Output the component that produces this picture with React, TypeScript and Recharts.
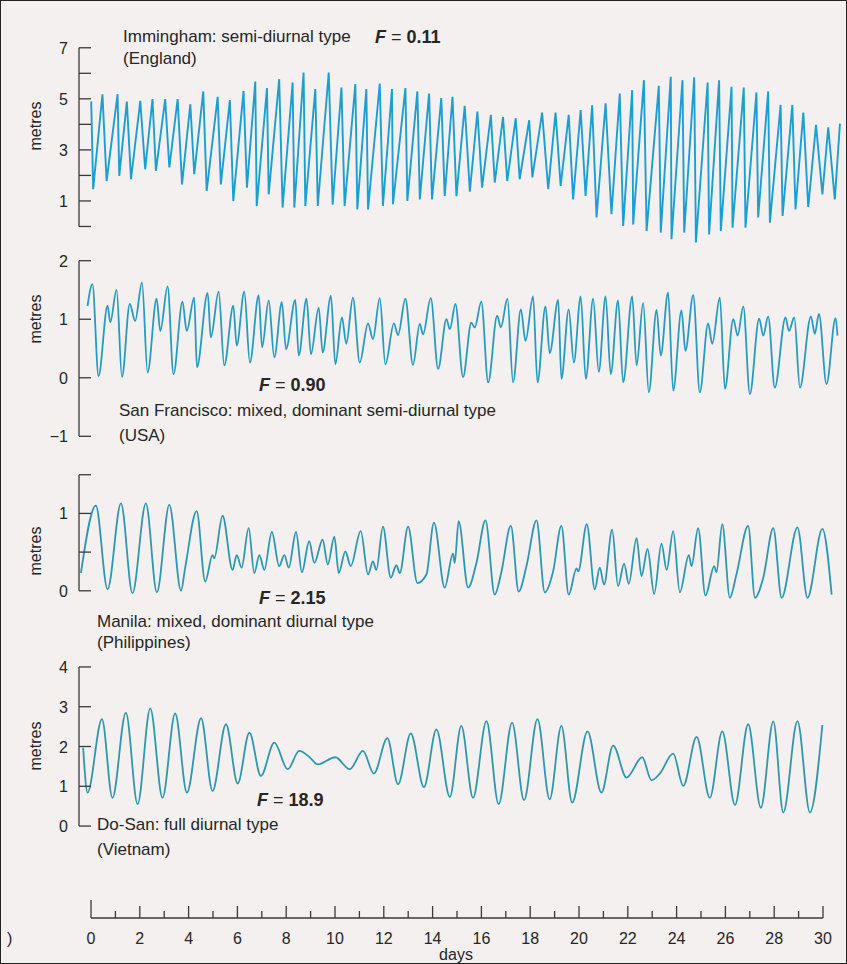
import React from 'react';
import { LineChart, Line, XAxis, YAxis, ReferenceLine } from 'recharts';

// highs and lows (day, metres)
const imminghamDays = [0, 0.08, 0.46, 0.63, 1.08, 1.15, 1.46, 1.63, 2.01, 2.21, 2.51, 2.65, 3.03, 3.2, 3.54, 3.72, 4.06, 4.22, 4.59, 4.73, 5.18, 5.31, 5.68, 5.82, 6.24, 6.38, 6.72, 6.78, 7.2, 7.27, 7.7, 7.84, 8.25, 8.32, 8.7, 8.77, 9.18, 9.28, 9.73, 9.89, 10.25, 10.38, 10.82, 10.9, 11.27, 11.34, 11.82, 11.95, 12.32, 12.36, 12.87, 12.95, 13.36, 13.46, 13.84, 13.96, 14.34, 14.48, 14.8, 14.96, 15.3, 15.51, 15.82, 16.01, 16.37, 16.53, 16.87, 17.04, 17.39, 17.55, 17.94, 18.07, 18.47, 18.72, 19.02, 19.23, 19.56, 19.74, 20.05, 20.25, 20.52, 20.7, 21.07, 21.31, 21.65, 21.79, 22.16, 22.2, 22.64, 22.75, 23.25, 23.33, 23.74, 23.77, 24.22, 24.29, 24.7, 24.77, 25.25, 25.31, 25.72, 25.79, 26.23, 26.27, 26.73, 26.8, 27.25, 27.32, 27.73, 27.8, 28.24, 28.32, 28.72, 28.85, 29.17, 29.37, 29.69, 29.95, 30.19, 30.46, 30.67];
const imminghamMetres = [4.9, 1.46, 5.18, 1.78, 5.18, 1.98, 4.89, 1.85, 4.92, 2.24, 4.99, 2.18, 4.99, 2.31, 4.99, 1.65, 4.79, 2.05, 5.29, 1.39, 5.08, 1.65, 4.95, 1.0, 5.31, 1.52, 5.68, 0.8, 5.42, 1.26, 5.77, 0.74, 5.64, 0.74, 6.03, 0.8, 5.38, 0.8, 6.03, 0.85, 5.44, 0.8, 5.58, 0.67, 5.38, 0.67, 5.6, 0.8, 5.38, 0.87, 5.42, 1.0, 5.29, 1.06, 5.21, 1.06, 5.03, 1.19, 5.08, 1.19, 4.73, 1.36, 4.5, 1.52, 4.37, 1.72, 4.29, 1.78, 4.24, 1.85, 4.16, 1.92, 4.46, 1.46, 4.46, 1.59, 4.37, 1.06, 4.56, 1.2, 4.75, 0.35, 4.82, 0.48, 5.21, 0.02, 5.34, 0.08, 5.73, -0.18, 5.51, -0.24, 5.86, -0.5, 5.73, -0.24, 5.84, -0.63, 5.64, -0.31, 5.73, -0.18, 5.47, -0.05, 5.44, -0.05, 5.25, 0.35, 5.29, 0.15, 4.76, 0.41, 4.76, 0.67, 4.46, 0.76, 3.98, 1.26, 3.88, 1.06, 4.03];

const sanFranciscoDays = [-0.15, 0.05, 0.3, 0.67, 0.78, 1.04, 1.26, 1.58, 1.8, 2.08, 2.31, 2.68, 2.83, 3.13, 3.37, 3.74, 3.91, 4.22, 4.33, 4.77, 4.9, 5.22, 5.45, 5.82, 5.96, 6.27, 6.5, 6.86, 7.0, 7.27, 7.5, 7.81, 7.98, 8.36, 8.5, 8.82, 9.0, 9.32, 9.48, 9.82, 10.0, 10.27, 10.45, 10.72, 11.0, 11.34, 11.54, 11.82, 12.05, 12.4, 12.57, 12.87, 13.18, 13.46, 13.59, 13.91, 14.21, 14.55, 14.69, 14.92, 15.23, 15.57, 15.71, 15.98, 16.26, 16.63, 16.78, 17.05, 17.28, 17.6, 17.79, 18.1, 18.28, 18.61, 18.78, 19.13, 19.26, 19.56, 19.77, 20.05, 20.26, 20.56, 20.79, 21.07, 21.28, 21.58, 21.79, 22.16, 22.34, 22.61, 22.84, 23.16, 23.33, 23.63, 23.84, 24.18, 24.34, 24.66, 24.93, 25.27, 25.44, 25.75, 25.96, 26.3, 26.48, 26.71, 26.98, 27.36, 27.53, 27.73, 28.0, 28.44, 28.58, 28.8, 29.03, 29.48, 29.64, 29.81, 30.12, 30.49, 30.57];
const sanFranciscoMetres = [1.23, 1.6, 0.03, 1.23, 0.95, 1.5, 0.01, 1.26, 0.97, 1.63, 0.09, 1.35, 0.8, 1.56, 0.06, 1.3, 0.8, 1.37, 0.18, 1.45, 0.69, 1.47, 0.21, 1.23, 0.55, 1.47, 0.26, 1.41, 0.52, 1.32, 0.35, 1.29, 0.49, 1.33, 0.38, 1.35, 0.4, 1.2, 0.43, 1.4, 0.23, 1.03, 0.58, 1.37, 0.26, 0.93, 0.66, 1.36, 0.23, 0.93, 0.73, 1.35, 0.22, 0.92, 0.74, 1.36, 0.15, 1.0, 0.83, 1.26, 0.01, 0.94, 0.86, 1.3, -0.08, 1.06, 0.86, 1.35, -0.08, 1.17, 0.63, 1.39, -0.08, 1.22, 0.42, 1.33, -0.02, 1.17, 0.26, 1.39, -0.02, 1.35, 0.1, 1.39, 0.06, 1.32, -0.08, 1.39, 0.21, 1.28, -0.25, 1.16, 0.38, 1.46, -0.22, 1.15, 0.46, 1.41, -0.25, 0.93, 0.58, 1.37, -0.19, 1.0, 0.72, 1.22, -0.28, 1.01, 0.72, 1.05, -0.17, 1.03, 0.8, 1.03, -0.17, 1.05, 0.75, 1.09, -0.11, 1.02, 0.72];

const manilaDays = [-0.42, 0.19, 0.67, 1.22, 1.69, 2.24, 2.69, 3.2, 3.68, 3.85, 4.32, 4.67, 4.97, 5.04, 5.38, 5.79, 5.96, 6.16, 6.45, 6.68, 6.89, 7.09, 7.4, 7.7, 7.91, 8.09, 8.39, 8.63, 8.93, 9.14, 9.48, 9.69, 9.96, 10.14, 10.41, 10.63, 11.04, 11.34, 11.54, 11.68, 11.95, 12.27, 12.5, 12.64, 12.98, 13.36, 13.73, 14.04, 14.48, 14.82, 14.89, 15.05, 15.44, 15.78, 16.15, 16.53, 16.8, 17.19, 17.51, 17.83, 18.24, 18.58, 18.92, 19.26, 19.56, 19.88, 19.95, 20.3, 20.63, 20.83, 21.01, 21.34, 21.58, 21.83, 22.02, 22.34, 22.54, 22.79, 23.06, 23.36, 23.57, 23.84, 24.11, 24.48, 24.59, 24.86, 25.16, 25.52, 25.61, 25.85, 26.16, 26.43, 26.91, 27.19, 27.53, 27.94, 28.28, 28.93, 29.34, 29.95, 30.33];
const manilaMetres = [0.23, 1.1, 0.02, 1.13, -0.03, 1.13, -0.02, 1.11, 0.0, 0.3, 1.03, 0.12, 0.46, 0.42, 0.97, 0.27, 0.46, 0.3, 0.81, 0.23, 0.46, 0.27, 0.76, 0.32, 0.46, 0.3, 0.76, 0.24, 0.64, 0.36, 0.66, 0.34, 0.7, 0.23, 0.51, 0.32, 0.77, 0.21, 0.38, 0.27, 0.83, 0.17, 0.33, 0.23, 0.83, 0.1, 0.21, 0.88, 0.04, 0.48, 0.36, 0.9, 0.04, 0.36, 0.91, -0.05, 0.24, 0.84, -0.01, 0.32, 0.91, -0.02, 0.25, 0.84, -0.05, 0.29, 0.25, 0.86, 0.02, 0.3, 0.08, 0.79, 0.06, 0.35, 0.09, 0.68, 0.19, 0.54, -0.04, 0.61, 0.27, 0.77, -0.02, 0.46, 0.32, 0.81, -0.06, 0.32, 0.24, 0.86, -0.09, 0.21, 0.84, -0.09, 0.17, 0.81, -0.09, 0.82, -0.09, 0.8, -0.05];

const doSanDays = [-0.33, -0.15, 0.44, 0.87, 1.42, 1.9, 2.42, 2.92, 3.44, 3.92, 4.5, 4.97, 5.52, 6.0, 6.48, 6.95, 7.5, 8.05, 8.52, 8.93, 9.28, 10.0, 10.59, 11.13, 11.58, 12.13, 12.57, 13.09, 13.63, 14.14, 14.69, 15.16, 15.64, 16.19, 16.69, 17.24, 17.73, 18.28, 18.78, 19.26, 19.7, 20.33, 20.9, 21.38, 21.93, 22.57, 22.95, 23.29, 23.84, 24.25, 24.8, 25.34, 25.85, 26.37, 26.91, 27.43, 27.94, 28.35, 28.93, 29.44, 29.95];
const doSanMetres = [1.97, 0.84, 2.69, 0.71, 2.85, 0.55, 2.96, 0.71, 2.83, 0.84, 2.71, 0.88, 2.56, 1.07, 2.35, 1.26, 2.1, 1.43, 1.89, 1.74, 1.55, 1.73, 1.43, 1.89, 1.32, 2.21, 1.05, 2.33, 0.98, 2.43, 0.73, 2.52, 0.71, 2.64, 0.55, 2.6, 0.65, 2.69, 0.67, 2.52, 0.59, 2.38, 0.84, 2.02, 1.22, 1.73, 1.15, 1.32, 1.82, 1.01, 2.24, 0.71, 2.38, 0.53, 2.56, 0.46, 2.63, 0.34, 2.64, 0.34, 2.54];

// axis ticks
const imminghamTicks = [0, 1, 2, 3, 4, 5, 6, 7];
const imminghamLabels = [1, 3, 5, 7];
const sanFranciscoTicks = [-1, 0, 1, 2];
const manilaTicks = [0, 0.5, 1, 1.5];
const manilaLabels = [0, 1];
const doSanTicks = [0, 1, 2, 3, 4];
const dayTicks = [0, 1, 2, 3, 4, 5, 6, 7, 8, 9, 10, 11, 12, 13, 14, 15, 16, 17, 18, 19, 20, 21, 22, 23, 24, 25, 26, 27, 28, 29, 30];
const dayLabels = [0, 2, 4, 6, 8, 10, 12, 14, 16, 18, 20, 22, 24, 26, 28, 30];

const DAY_DOMAIN: [number, number] = [-0.5, 31];
const FONT = '"Liberation Sans", Arial, Helvetica, sans-serif';
const INK = '#262626';
const AXIS = '#3a3a3a';

const toRows = (days: number[], metres: number[]) => days.map((d, i) => ({ day: d, m: metres[i] }));

const makeYTick = (labels: number[]) => (props: any) => {
  const { x, y, payload } = props;
  const v = payload.value;
  return (
    <g>
      <line x1={x} x2={x + 12} y1={y} y2={y} stroke={AXIS} strokeWidth={1.3} />
      {labels.includes(v) && (
        <text x={x - 11} y={y + 6} textAnchor="end" fontFamily={FONT} fontSize={16} fill={INK}>
          {v < 0 ? `\u2212${Math.abs(v)}` : v}
        </text>
      )}
    </g>
  );
};

function TidePanel({ days, metres, top, height, domain, ticks, labels, color, type, width }: {
  days: number[]; metres: number[]; top: number; height: number; domain: [number, number];
  ticks: number[]; labels: number[]; color: string; type: 'linear' | 'monotone'; width: number;
}) {
  const rows = toRows(days, metres);
  return (
    <div style={{ position: 'absolute', left: 0, top }}>
      <LineChart width={847} height={height} data={rows} margin={{ top: 0, right: 0, bottom: 0, left: 0 }}>
        <XAxis type="number" dataKey="day" domain={DAY_DOMAIN} hide />
        <YAxis
          type="number"
          domain={domain}
          ticks={ticks}
          interval={0}
          width={78}
          axisLine={false}
          tickLine={false}
          tickSize={0}
          tickMargin={0}
          tick={makeYTick(labels)}
        />
        <ReferenceLine
          segment={[{ x: -0.5, y: ticks[0] }, { x: -0.5, y: ticks[ticks.length - 1] }]}
          stroke={AXIS}
          strokeWidth={1.3}
          ifOverflow="visible"
        />
        <Line
          type={type}
          dataKey="m"
          stroke={color}
          strokeWidth={width}
          dot={false}
          isAnimationActive={false}
        />
      </LineChart>
    </div>
  );
}

const dayTick = (props: any) => {
  const { x, y, payload } = props;
  const v = payload.value;
  const major = dayLabels.includes(v);
  return (
    <g>
      <line x1={x} x2={x} y1={y} y2={y - (v === 0 ? 18 : major ? 12 : 7)} stroke={AXIS} strokeWidth={1.3} />
      {major && (
        <text x={x} y={y + 26} textAnchor="middle" fontFamily={FONT} fontSize={16} fill={INK}>{v}</text>
      )}
    </g>
  );
};

function DaysAxis() {
  return (
    <div style={{ position: 'absolute', left: 0, top: 880 }}>
      <LineChart width={847} height={84} data={dayTicks.map((d) => ({ day: d, m: 0 }))} margin={{ top: 0, right: 25, bottom: 0, left: 90 }}>
        <XAxis
          type="number"
          dataKey="day"
          domain={[0, 30]}
          ticks={dayTicks}
          interval={0}
          height={47}
          axisLine={{ stroke: AXIS, strokeWidth: 1.3 }}
          tickLine={false}
          tickSize={0}
          tickMargin={0}
          tick={dayTick}
        />
        <YAxis type="number" domain={[0, 1]} hide />
      </LineChart>
    </div>
  );
}

const FValue = ({ x, y, value }: { x: number; y: number; value: string }) => (
  <text x={x} y={y} fontFamily={FONT} fontSize={18} fontWeight="bold" fill={INK}>
    <tspan fontStyle="italic">F</tspan>
    <tspan fontWeight="normal"> = </tspan>
    <tspan>{value}</tspan>
  </text>
);

const Metres = ({ cy }: { cy: number }) => (
  <text x={0} y={0} transform={`translate(40 ${cy}) rotate(-90)`} textAnchor="middle" fontFamily={FONT} fontSize={16} fill={INK}>
    metres
  </text>
);

const Label = ({ x, y, children }: { x: number; y: number; children: React.ReactNode }) => (
  <text x={x} y={y} fontFamily={FONT} fontSize={17} fill={INK}>{children}</text>
);

export default function App() {
  return (
    <div style={{ position: 'absolute', left: 0, top: 0, width: 847, height: 964, background: '#f3f0ef', overflow: 'hidden', boxSizing: 'border-box', border: '1px solid #222' }}>
      <TidePanel days={imminghamDays} metres={imminghamMetres} top={34} height={217} domain={[-1, 7.5]} ticks={imminghamTicks} labels={imminghamLabels} color="#1a9fd5" type="linear" width={1.9} />
      <TidePanel days={sanFranciscoDays} metres={sanFranciscoMetres} top={248} height={199} domain={[-1.2, 2.2]} ticks={sanFranciscoTicks} labels={sanFranciscoTicks} color="#259bc4" type="monotone" width={1.8} />
      <TidePanel days={manilaDays} metres={manilaMetres} top={466} height={147} domain={[-0.3, 1.6]} ticks={manilaTicks} labels={manilaLabels} color="#2b97b4" type="monotone" width={1.8} />
      <TidePanel days={doSanDays} metres={doSanMetres} top={658} height={179} domain={[-0.3, 4.2]} ticks={doSanTicks} labels={doSanTicks} color="#2e97ae" type="monotone" width={1.8} />
      <DaysAxis />
      <svg width={847} height={964} style={{ position: 'absolute', left: 0, top: 0, pointerEvents: 'none' }}>
        <Label x={122} y={41}>Immingham: semi-diurnal type</Label>
        <FValue x={374} y={42} value="0.11" />
        <Label x={122} y={63}>(England)</Label>
        <Metres cy={125} />

        <FValue x={258} y={390} value="0.90" />
        <Label x={118} y={415}>San Francisco: mixed, dominant semi-diurnal type</Label>
        <Label x={118} y={440}>(USA)</Label>
        <Metres cy={318} />

        <FValue x={258} y={603} value="2.15" />
        <Label x={96} y={626}>Manila: mixed, dominant diurnal type</Label>
        <Label x={96} y={647}>(Philippines)</Label>
        <Metres cy={550} />

        <FValue x={256} y={805} value="18.9" />
        <Label x={96} y={829}>Do-San: full diurnal type</Label>
        <Label x={96} y={854}>(Vietnam)</Label>
        <Metres cy={745} />

        <text x={455} y={959} textAnchor="middle" fontFamily={FONT} fontSize={16} fill={INK}>days</text>
        <text x={6} y={943} fontFamily={FONT} fontSize={16} fill={INK}>)</text>
      </svg>
    </div>
  );
}
